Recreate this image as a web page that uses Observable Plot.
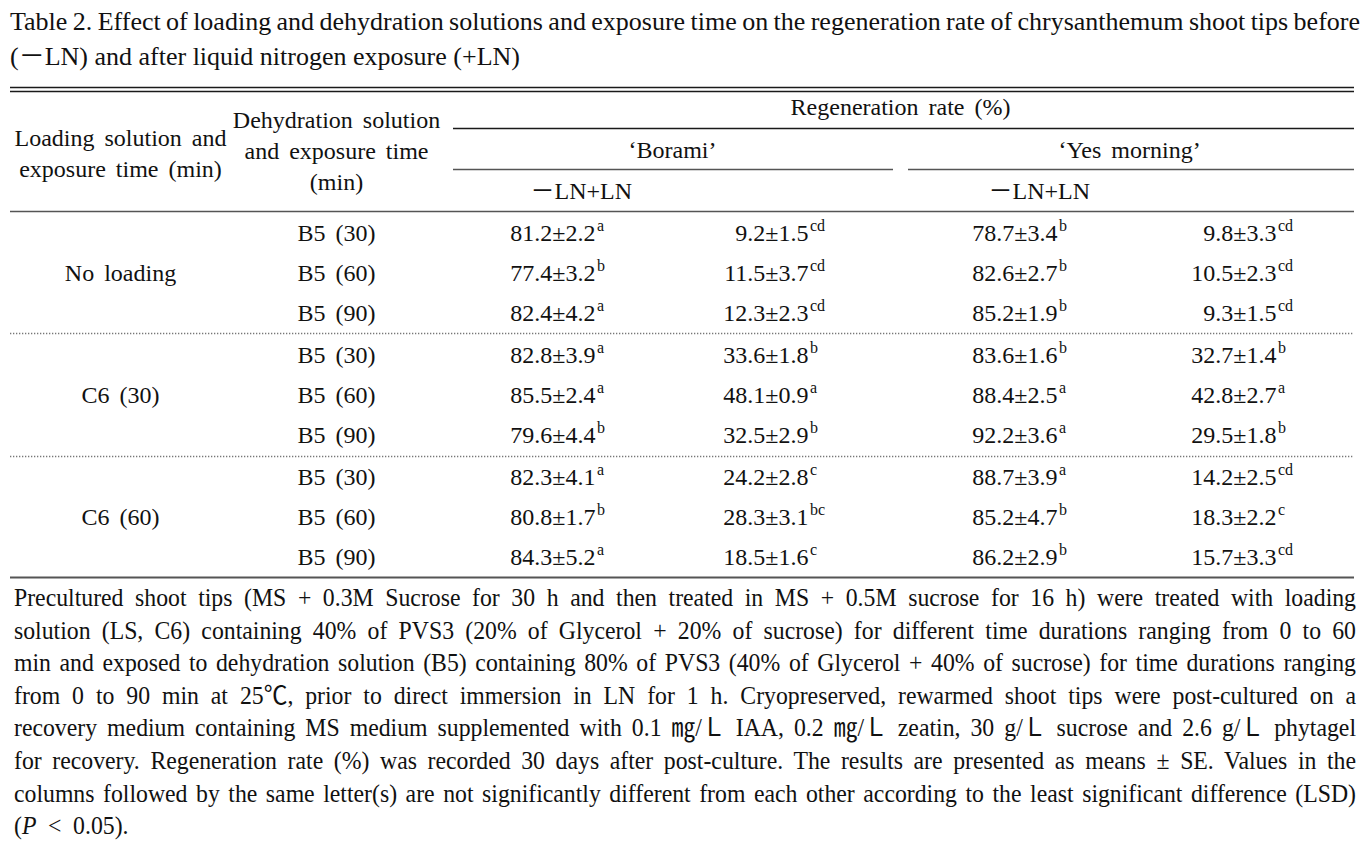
<!DOCTYPE html>
<html lang="en"><head><meta charset="utf-8">
<script src="https://cdn.jsdelivr.net/npm/d3@7"></script>
<script src="https://cdn.jsdelivr.net/npm/@observablehq/plot@0.6"></script>
<style>
html,body{margin:0;padding:0;background:#fff;}
#root{position:relative;width:1369px;height:846px;overflow:hidden;font-family:"Liberation Serif","Noto Sans CJK KR",serif;color:#111;}
.ln{position:absolute;white-space:nowrap;transform-origin:0 50%;}
#table{position:absolute;left:0;top:80px;}
#table svg{word-spacing:4px;}
</style></head>
<body><div id="root"><div id="title"></div><div id="table"></div><div id="caption"></div></div>
<script>
// ---------- DATA ----------
const titleLines = [
  "Table 2. Effect of loading and dehydration solutions and exposure time on the regeneration rate of chrysanthemum shoot tips before",
  "(－LN) and after liquid nitrogen exposure (+LN)"
];
const headLoading = ["Loading solution and", "exposure time (min)"];
const headDehydration = ["Dehydration solution", "and exposure time", "(min)"];
const headGroup = "Regeneration rate (%)";
const cultivars = ["‘Borami’", "‘Yes morning’"];
const treatmentHeader = "－LN+LN";
const loadingLabels = ["No loading", "C6 (30)", "C6 (60)"];
const dehydrationLabels = ["B5 (30)", "B5 (60)", "B5 (90)"];

const boramiMinusMean = [81.2, 77.4, 82.4, 82.8, 85.5, 79.6, 82.3, 80.8, 84.3];
const boramiMinusSE   = [2.2, 3.2, 4.2, 3.9, 2.4, 4.4, 4.1, 1.7, 5.2];
const boramiMinusLetter = ["a", "b", "a", "a", "a", "b", "a", "b", "a"];
const boramiPlusMean = [9.2, 11.5, 12.3, 33.6, 48.1, 32.5, 24.2, 28.3, 18.5];
const boramiPlusSE   = [1.5, 3.7, 2.3, 1.8, 0.9, 2.9, 2.8, 3.1, 1.6];
const boramiPlusLetter = ["cd", "cd", "cd", "b", "a", "b", "c", "bc", "c"];
const yesMinusMean = [78.7, 82.6, 85.2, 83.6, 88.4, 92.2, 88.7, 85.2, 86.2];
const yesMinusSE   = [3.4, 2.7, 1.9, 1.6, 2.5, 3.6, 3.9, 4.7, 2.9];
const yesMinusLetter = ["b", "b", "b", "b", "a", "a", "a", "b", "b"];
const yesPlusMean = [9.8, 10.5, 9.3, 32.7, 42.8, 29.5, 14.2, 18.3, 15.7];
const yesPlusSE   = [3.3, 2.3, 1.5, 1.4, 2.7, 1.8, 2.5, 2.2, 3.3];
const yesPlusLetter = ["cd", "cd", "cd", "b", "a", "b", "cd", "c", "cd"];

const captionLines = [
  "Precultured shoot tips (MS + 0.3M Sucrose for 30 h and then treated in MS + 0.5M sucrose for 16 h) were treated with loading",
  "solution (LS, C6) containing 40% of PVS3 (20% of Glycerol + 20% of sucrose) for different time durations ranging from 0 to 60",
  "min and exposed to dehydration solution (B5) containing 80% of PVS3 (40% of Glycerol + 40% of sucrose) for time durations ranging",
  "from 0 to 90 min at 25℃, prior to direct immersion in LN for 1 h. Cryopreserved, rewarmed shoot tips were post-cultured on a",
  "recovery medium containing MS medium supplemented with 0.1 ㎎/Ｌ IAA, 0.2 ㎎/Ｌ zeatin, 30 g/Ｌ sucrose and 2.6 g/Ｌ phytagel",
  "for recovery. Regeneration rate (%) was recorded 30 days after post-culture. The results are presented as means ± SE. Values in the",
  "columns followed by the same letter(s) are not significantly different from each other according to the least significant difference (LSD)",
  "(|P| < 0.05)."
];

// ---------- LAYOUT (page pixels) ----------
const LAYOUT = {
  left: 10, right: 1354, subLeft: 453, borEnd: 893, yesStart: 908,
  colLoad: 120, colDehyd: 336, colVal: [595, 808, 1057, 1276],
  rowY: [233, 273, 313, 355, 395, 435, 477, 517, 557],
  sepY: [333, 456],
  yTop: [87, 91], yRegRule: 128, yVarRule: 169, yHeadRule: 211, yBottom: 577,
  yReg: 107, xReg: 900, yVar: 150, xVar: [672, 1129], yLN: 191, xLN: [530, 988],
  yLoadHead: [138, 169], yDehydHead: [120, 151, 182],
  titleY: [22, 57], titleLeft: 10, titleRight: 1360, titleSize: 26,
  capY0: 598, capStep: 32.6, capLeft: 14, capRight: 1356, capSize: 25, capScale: 0.95, capLastSpacing: 6
};
const FONT = '"Liberation Serif", "Noto Sans CJK KR", serif';

// ---------- TITLE ----------
const root = document.getElementById("root");
function fitLine(el, width, justify, baseScale, extraSpacing) {
  el.style.wordSpacing = (extraSpacing || 0) + "px";
  el.style.transform = "none";
  const w = el.getBoundingClientRect().width;
  const target = width / baseScale;
  const n = (el.textContent.match(/ /g) || []).length;
  if (justify && n) {
    let ws = (target - w) / n;
    if (ws >= -1.5) el.style.wordSpacing = ws + "px";
    else {
      el.style.wordSpacing = "-1.5px";
      const w2 = el.getBoundingClientRect().width;
      baseScale = baseScale * target / w2;
    }
  } else if (w > target) baseScale = baseScale * target / w;
  el.style.transform = `scaleX(${baseScale})`;
}
titleLines.forEach((t, i) => {
  const d = document.createElement("div");
  d.className = "ln";
  d.textContent = t;
  d.style.fontSize = LAYOUT.titleSize + "px";
  d.style.lineHeight = "34px";
  d.style.left = LAYOUT.titleLeft + "px";
  d.style.top = (LAYOUT.titleY[i] - 17) + "px";
  root.appendChild(d);
  fitLine(d, LAYOUT.titleRight - LAYOUT.titleLeft, i < titleLines.length - 1, 1, 0);
});

// ---------- CAPTION ----------
captionLines.forEach((t, i) => {
  const d = document.createElement("div");
  d.className = "ln";
  t.split("|").forEach((part, k) => {
    if (k % 2 === 1) { const it = document.createElement("i"); it.textContent = part; d.appendChild(it); }
    else d.appendChild(document.createTextNode(part));
  });
  d.style.fontSize = LAYOUT.capSize + "px";
  d.style.lineHeight = "32px";
  d.style.left = LAYOUT.capLeft + "px";
  d.style.top = (LAYOUT.capY0 + i * LAYOUT.capStep - 16) + "px";
  root.appendChild(d);
  const last = i === captionLines.length - 1;
  fitLine(d, LAYOUT.capRight - LAYOUT.capLeft, !last, LAYOUT.capScale, last ? LAYOUT.capLastSpacing : 0);
});

// ---------- TABLE (Plot) ----------
const columns = [
  {mean: boramiMinusMean, se: boramiMinusSE, letter: boramiMinusLetter},
  {mean: boramiPlusMean, se: boramiPlusSE, letter: boramiPlusLetter},
  {mean: yesMinusMean, se: yesMinusSE, letter: yesMinusLetter},
  {mean: yesPlusMean, se: yesPlusSE, letter: yesPlusLetter}
];
const valueCells = [];
const letterCells = [];
columns.forEach((col, c) => {
  col.mean.forEach((m, i) => {
    valueCells.push({x: LAYOUT.colVal[c], y: LAYOUT.rowY[i], text: `${m.toFixed(1)}±${col.se[i].toFixed(1)}`});
    letterCells.push({x: LAYOUT.colVal[c] + 1.5, y: LAYOUT.rowY[i] - 7.5, text: col.letter[i]});
  });
});
const centerCells = [];
headLoading.forEach((t, i) => centerCells.push({x: LAYOUT.colLoad, y: LAYOUT.yLoadHead[i], text: t}));
headDehydration.forEach((t, i) => centerCells.push({x: LAYOUT.colDehyd, y: LAYOUT.yDehydHead[i], text: t}));
centerCells.push({x: LAYOUT.xReg, y: LAYOUT.yReg, text: headGroup});
cultivars.forEach((t, i) => centerCells.push({x: LAYOUT.xVar[i], y: LAYOUT.yVar, text: t}));
loadingLabels.forEach((t, g) => centerCells.push({x: LAYOUT.colLoad, y: LAYOUT.rowY[g * 3 + 1], text: t}));
LAYOUT.rowY.forEach((y, i) => centerCells.push({x: LAYOUT.colDehyd, y, text: dehydrationLabels[i % 3]}));
const startCells = LAYOUT.xLN.map(x => ({x, y: LAYOUT.yLN, text: treatmentHeader}));

const solidRules = [
  {x1: LAYOUT.left, x2: LAYOUT.right, y: LAYOUT.yTop[0], w: 1.4, c: "#1a1a1a"},
  {x1: LAYOUT.left, x2: LAYOUT.right, y: LAYOUT.yTop[1], w: 1.4, c: "#1a1a1a"},
  {x1: LAYOUT.subLeft, x2: LAYOUT.right, y: LAYOUT.yRegRule, w: 1.3, c: "#1a1a1a"},
  {x1: LAYOUT.subLeft, x2: LAYOUT.borEnd, y: LAYOUT.yVarRule, w: 1.3, c: "#555"},
  {x1: LAYOUT.yesStart, x2: LAYOUT.right, y: LAYOUT.yVarRule, w: 1.3, c: "#555"},
  {x1: LAYOUT.left, x2: LAYOUT.right, y: LAYOUT.yHeadRule, w: 1.6, c: "#555"},
  {x1: LAYOUT.left, x2: LAYOUT.right, y: LAYOUT.yBottom, w: 2, c: "#555"}
];
const dottedRules = LAYOUT.sepY.map(y => ({x1: LAYOUT.left, x2: LAYOUT.right, y}));

const textBase = {x: "x", y: "y", text: "text", fontFamily: FONT, fill: "#111", lineAnchor: "middle"};
const chart = Plot.plot({
  width: 1369, height: 510, margin: 0,
  x: {domain: [0, 1369], range: [0, 1369], axis: null},
  y: {domain: [80, 590], range: [0, 510], axis: null},
  marks: [
    ...solidRules.map(r => Plot.ruleY([r], {x1: "x1", x2: "x2", y: "y", stroke: r.c, strokeWidth: r.w})),
    Plot.ruleY(dottedRules, {x1: "x1", x2: "x2", y: "y", stroke: "#777", strokeWidth: 1.3, strokeDasharray: "1.3,1.7"}),
    Plot.text(centerCells, {...textBase, fontSize: 24, textAnchor: "middle", ariaLabel: "labels"}),
    Plot.text(startCells, {...textBase, fontSize: 24, textAnchor: "start", ariaLabel: "treat"}),
    Plot.text(valueCells, {...textBase, fontSize: 24, textAnchor: "end", ariaLabel: "values"}),
    Plot.text(letterCells, {...textBase, fontSize: 16, textAnchor: "start", ariaLabel: "letters"})
  ]
});
function squeeze(sel, s) {
  chart.querySelectorAll(sel).forEach(t => {
    const tr = t.getAttribute("transform");
    if (tr && /translate/.test(tr)) t.setAttribute("transform", tr + ` scale(${s},1)`);
    else {
      const x = +t.getAttribute("x") || 0;
      t.setAttribute("transform", `translate(${x * (1 - s)},0) scale(${s},1)` + (tr ? " " + tr : ""));
    }
  });
}
squeeze('g[aria-label="values"] text', 0.82);
squeeze('g[aria-label="letters"] text', 0.88);
document.getElementById("table").appendChild(chart);
</script></body></html>
